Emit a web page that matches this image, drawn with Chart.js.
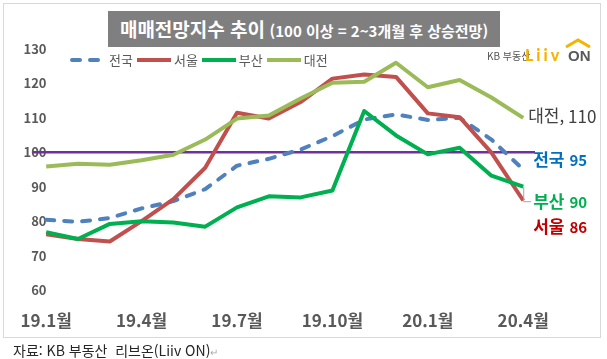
<!DOCTYPE html>
<html lang="ko">
<head>
<meta charset="utf-8">
<title>매매전망지수 추이</title>
<script src="https://cdn.jsdelivr.net/npm/chart.js@4.4.1/dist/chart.umd.min.js"></script>
<style>
    html, body { margin: 0; padding: 0; background: #fff; }
    body {
        width: 607px; height: 359px; position: relative; overflow: hidden;
        font-family: 'Noto Sans CJK KR', 'Noto Sans', sans-serif;
    }
    #frame { position: absolute; left: 3px; top: 3px; width: 596px; height: 333px; border: 1px solid #d9d9d9; }
    #chartWrap { position: absolute; left: 0; top: 0; width: 607px; height: 359px; }
    #title {
        position: absolute; left: 108px; top: 11px; width: 392px; height: 36px;
        background: #7f7f7f; color: #fff; font-weight: bold; text-align: center;
        line-height: 36px; white-space: nowrap;
    }
    #title .main { font-size: 19px; }
    #title .sub { font-size: 15px; }
    #legend { position: absolute; left: 70px; top: 51px; height: 18px; display: flex; align-items: center; }
    .legend-item { display: flex; align-items: center; margin-right: 2px; }
    .legend-item span { font-size: 13px; color: #595959; margin-left: 3px; line-height: 18px; }
    .logo-kb { position: absolute; left: 487px; top: 50px; font-size: 10px; color: #555; line-height: 12px; }
    .logo-liiv { position: absolute; left: 525px; top: 46px; font: 900 16px 'Lato', sans-serif; color: #f5b400; letter-spacing: 3px; line-height: 18px; }
    .logo-on { position: absolute; left: 568px; top: 47px; font: bold 15px 'Liberation Sans', sans-serif; color: #595959; line-height: 18px; }
    .logo-roof { position: absolute; left: 564px; top: 38px; }
    #source { position: absolute; left: 13px; top: 340px; font-size: 14px; color: #262626; line-height: 20px; white-space: pre; }
    #source .ret { color: #aaa; font-size: 10px; }
</style>
</head>
<body>
<div id="frame"></div>
<div id="chartWrap"><canvas id="trendChart" width="607" height="359"></canvas></div>
<div id="title"><span class="main">매매전망지수 추이</span> <span class="sub">(100 이상 = 2~3개월 후 상승전망)</span></div>
<div id="legend"></div>
<span class="logo-kb">KB 부동산</span>
<span class="logo-liiv">Liiv</span>
<span class="logo-on">ON</span>
<svg class="logo-roof" width="30" height="10"><polyline points="2,9 14,2 26,9" fill="none" stroke="#f5b400" stroke-width="3"/></svg>
<div id="source">자료: KB 부동산  리브온(Liiv ON)<span class="ret">↵</span></div>

<script>
// Monthly index, 19.1 ~ 20.4
const MONTH_LABELS = ['19.1월', '19.2월', '19.3월', '19.4월', '19.5월', '19.6월', '19.7월', '19.8월',
    '19.9월', '19.10월', '19.11월', '19.12월', '20.1월', '20.2월', '20.3월', '20.4월'];
const TICK_MONTHS = [0, 3, 6, 9, 12, 15];

const NATION = [80.4, 79.8, 80.9, 83.7, 85.8, 89.3, 96.1, 98.1, 100.8, 104.7, 109.5, 111.0, 109.4, 110.0, 103.7, 95];
const SEOUL = [76.2, 74.8, 74.1, 80.0, 86.4, 95.5, 111.5, 109.8, 114.6, 121.4, 122.6, 121.9, 111.3, 110.2, 99.9, 86];
const BUSAN = [76.8, 74.8, 79.2, 80.0, 79.6, 78.4, 84.0, 87.2, 86.9, 88.9, 112.0, 104.9, 99.4, 101.3, 93.2, 90];
const DAEJEON = [95.9, 96.7, 96.4, 97.7, 99.3, 103.7, 109.8, 110.7, 115.6, 120.2, 120.5, 126.0, 118.9, 121.0, 115.9, 110];

const BASELINE = 100;
const Y_MIN = 60;
const Y_MAX = 130;
const X_MIN = -0.43;
const X_MAX = 15.37;

const FONT = "'Noto Sans CJK KR', 'Noto Sans', sans-serif";
Chart.defaults.font.family = FONT;

const toPoints = values => values.map((v, i) => ({ x: i, y: v }));

// HTML legend drawn from the datasets (skips the baseline)
const htmlLegendPlugin = {
    id: 'htmlLegend',
    afterUpdate(chart, args, options) {
        const container = document.getElementById(options?.containerID);
        if (!container) return;
        container.innerHTML = chart.data.datasets
            .filter(ds => !ds.isBaseline)
            .map(ds => {
                const dash = ds.borderDash ? `stroke-dasharray="${ds.borderDash.join(' ')}"` : '';
                const cap = ds.borderDash ? 'round' : 'butt';
                return `
                <div class="legend-item">
                    <svg width="36" height="8"><line x1="2" y1="4" x2="36" y2="4" stroke="${ds.borderColor}"
                        stroke-width="4" stroke-linecap="${cap}" ${dash}/></svg>
                    <span>${ds.label}</span>
                </div>`;
            }).join('');
    }
};

// Labels at the right end of each series
const endLabelPlugin = {
    id: 'endLabels',
    afterDatasetsDraw(chart, args, options) {
        const { ctx, scales: { x, y } } = chart;
        (options.items || []).forEach(item => {
            const ds = chart.data.datasets[item.index];
            const last = ds.data[ds.data.length - 1];
            const px = x.getPixelForValue(last.x);
            const py = y.getPixelForValue(last.y);
            const lx = px + item.dx;
            const ly = py + item.dy;
            ctx.save();
            if (item.leader) {
                ctx.strokeStyle = '#a6a6a6';
                ctx.lineWidth = 1;
                ctx.beginPath();
                ctx.moveTo(px + 0.5, py);
                ctx.lineTo(px + 0.5, ly);
                ctx.lineTo(lx - 2, ly);
                ctx.stroke();
            }
            ctx.textBaseline = 'middle';
            ctx.textAlign = 'left';
            ctx.fillStyle = item.color;
            ctx.font = `${item.weight} ${item.nameSize}px ${FONT}`;
            ctx.fillText(item.name, lx, ly);
            const w = ctx.measureText(item.name).width;
            ctx.font = `${item.weight} ${item.valueSize}px ${FONT}`;
            ctx.fillText(String(Math.round(last.y)), lx + w + item.gap, ly + 1);
            ctx.restore();
        });
    }
};

const datasets = [
    {
        label: '전국', data: toPoints(NATION), borderColor: '#4f81bd', borderWidth: 4,
        borderDash: [8, 10], borderCapStyle: 'round', order: 4
    },
    { label: '서울', data: toPoints(SEOUL), borderColor: '#c0504d', borderWidth: 4, order: 3 },
    { label: '부산', data: toPoints(BUSAN), borderColor: '#00b050', borderWidth: 4, order: 2 },
    { label: '대전', data: toPoints(DAEJEON), borderColor: '#9bbb59', borderWidth: 4, order: 1 },
    {
        label: '기준', isBaseline: true, order: 5, borderColor: '#7030a0', borderWidth: 2.5,
        data: [{ x: X_MIN, y: BASELINE }, { x: X_MAX, y: BASELINE }]
    }
];
datasets.forEach(ds => {
    ds.pointRadius = 0;
    ds.tension = 0;
    ds.fill = false;
    ds.borderJoinStyle = 'round';
});

new Chart(document.getElementById('trendChart').getContext('2d'), {
    type: 'line',
    data: { datasets },
    plugins: [htmlLegendPlugin, endLabelPlugin],
    options: {
        responsive: false,
        animation: false,
        layout: { padding: { left: 0, right: 72, top: 49, bottom: 9 } },
        plugins: {
            legend: { display: false },
            tooltip: { enabled: false },
            htmlLegend: { containerID: 'legend' },
            endLabels: {
                items: [
                    { index: 3, name: '대전, ', color: '#404040', weight: 'normal', nameSize: 17, valueSize: 17, gap: 0, dx: 5, dy: -2 },
                    { index: 0, name: '전국', color: '#0070c0', weight: 'bold', nameSize: 17, valueSize: 15, gap: 5, dx: 10, dy: -10 },
                    { index: 2, name: '부산', color: '#00b050', weight: 'bold', nameSize: 17, valueSize: 15, gap: 5, dx: 10, dy: 15, leader: true },
                    { index: 1, name: '서울', color: '#c00000', weight: 'bold', nameSize: 17, valueSize: 15, gap: 5, dx: 10, dy: 26 }
                ]
            }
        },
        scales: {
            x: {
                type: 'linear', min: X_MIN, max: X_MAX,
                grid: { display: false, drawTicks: false },
                border: { display: false },
                afterBuildTicks: scale => { scale.ticks = TICK_MONTHS.map(v => ({ value: v })); },
                afterFit: scale => { scale.height = 60; },
                ticks: {
                    padding: 20, color: '#595959', autoSkip: false, maxRotation: 0,
                    font: { size: 17, weight: 'bold' },
                    callback: v => MONTH_LABELS[v]
                }
            },
            y: {
                min: Y_MIN, max: Y_MAX,
                grid: { display: false, drawTicks: false },
                border: { display: false },
                afterFit: scale => { scale.width = 20; },
                // mirrored labels are not clipped to the narrow axis box
                ticks: {
                    stepSize: 10, mirror: true, crossAlign: 'far', padding: -9,
                    color: '#595959', font: { size: 13, weight: 'bold' }
                }
            }
        }
    }
});
</script>
</body>
</html>
